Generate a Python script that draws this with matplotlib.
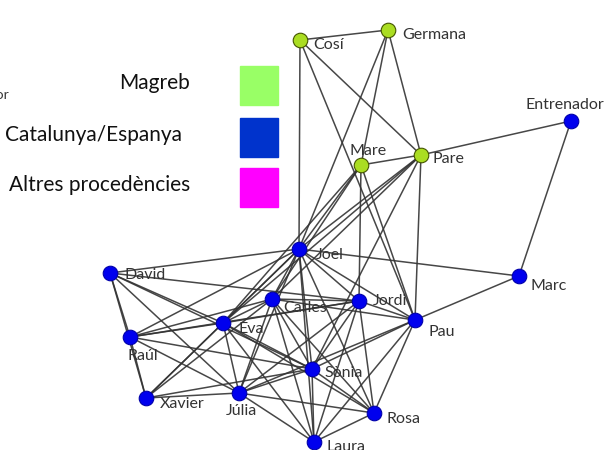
import matplotlib
matplotlib.use("Agg")
from matplotlib import pyplot as plt
from matplotlib.patches import Rectangle

plt.rcParams['font.family'] = ['Lato', 'DejaVu Sans']

# node positions (pixel coords, y down)
names = ['Cosí', 'Germana', 'Entrenador', 'Mare', 'Pare', 'Joel', 'David', 'Marc',
         'Carles', 'Jordi', 'Pau', 'Eva', 'Raúl', 'Sònia', 'Xavier', 'Júlia', 'Rosa', 'Laura']
xs = [300, 388, 571, 361, 421, 299, 110, 519, 272, 359, 415, 223, 130, 312, 146, 239, 374, 314]
ys = [40, 30, 121, 165, 155, 249, 273, 276, 299, 301, 320, 323, 337, 369, 398, 393, 413, 442]
origin = ['M', 'M', 'C', 'M', 'M', 'C', 'C', 'C', 'C', 'C', 'C', 'C', 'C', 'C', 'C', 'C', 'C', 'C']

edges = [
    ('Cosí', 'Germana'), ('Cosí', 'Joel'), ('Cosí', 'Pare'), ('Cosí', 'Pau'),
    ('Germana', 'Joel'), ('Germana', 'Mare'), ('Germana', 'Pare'),
    ('Mare', 'Pare'), ('Pare', 'Entrenador'), ('Entrenador', 'Marc'),
    ('Mare', 'Joel'), ('Mare', 'Carles'), ('Mare', 'Eva'), ('Mare', 'Jordi'), ('Mare', 'Pau'),
    ('Pare', 'Joel'), ('Pare', 'Carles'), ('Pare', 'Eva'), ('Pare', 'Pau'), ('Pare', 'Sònia'),
    ('Joel', 'David'), ('Joel', 'Marc'), ('Joel', 'Carles'), ('Joel', 'Eva'), ('Joel', 'Raúl'),
    ('Joel', 'Xavier'), ('Joel', 'Jordi'), ('Joel', 'Pau'), ('Joel', 'Sònia'), ('Joel', 'Rosa'),
    ('Joel', 'Laura'), ('Joel', 'Júlia'),
    ('David', 'Raúl'), ('David', 'Xavier'), ('David', 'Eva'), ('David', 'Júlia'),
    ('David', 'Sònia'), ('David', 'Jordi'),
    ('Raúl', 'Carles'), ('Raúl', 'Eva'), ('Raúl', 'Sònia'), ('Raúl', 'Júlia'),
    ('Raúl', 'Jordi'), ('Raúl', 'Xavier'),
    ('Xavier', 'Eva'), ('Xavier', 'Carles'), ('Xavier', 'Júlia'), ('Xavier', 'Sònia'),
    ('Eva', 'Carles'), ('Eva', 'Júlia'), ('Eva', 'Sònia'), ('Eva', 'Rosa'), ('Eva', 'Laura'),
    ('Eva', 'Jordi'),
    ('Carles', 'Jordi'), ('Carles', 'Júlia'), ('Carles', 'Sònia'), ('Carles', 'Laura'),
    ('Carles', 'Rosa'), ('Carles', 'Pau'),
    ('Jordi', 'Pau'), ('Jordi', 'Sònia'), ('Jordi', 'Júlia'), ('Jordi', 'Rosa'), ('Jordi', 'Laura'),
    ('Pau', 'Marc'), ('Pau', 'Sònia'), ('Pau', 'Júlia'), ('Pau', 'Laura'), ('Pau', 'Rosa'),
    ('Sònia', 'Júlia'), ('Sònia', 'Rosa'), ('Sònia', 'Laura'),
    ('Júlia', 'Rosa'), ('Júlia', 'Laura'), ('Rosa', 'Laura'),
]

# label offsets (dx, dy, ha)
label_pos = {
    'Cosí': (13, 5, 'left'), 'Germana': (14, 5, 'left'), 'Entrenador': (-6, -16, 'center'),
    'Mare': (7, -14, 'center'), 'Pare': (11, 4, 'left'), 'Joel': (17, 6, 'left'),
    'David': (14, 2, 'left'), 'Marc': (12, 10, 'left'), 'Carles': (11, 9, 'left'),
    'Jordi': (14, 0, 'left'), 'Pau': (13, 12, 'left'), 'Eva': (15, 6, 'left'),
    'Raúl': (13, 19, 'center'), 'Sònia': (12, 4, 'left'), 'Xavier': (14, 6, 'left'),
    'Júlia': (2, 18, 'center'), 'Rosa': (13, 6, 'left'), 'Laura': (13, 5, 'left'),
}

legend_labels = ['Magreb', 'Catalunya/Espanya', 'Altres procedències']
legend_colors = ['#99ff66', '#0033cc', '#ff00ff']
legend_right = [190, 182, 190]

node_face = {'M': '#aadd22', 'C': '#0000ee'}
node_edge = {'M': '#445500', 'C': '#0000aa'}

fig = plt.figure(figsize=(6.12, 4.5), dpi=100)
ax = fig.add_axes([0, 0, 1, 1])
ax.set_xlim(0, 612)
ax.set_ylim(450, 0)
ax.axis('off')

idx = {n: i for i, n in enumerate(names)}
for a, b in edges:
    i, j = idx[a], idx[b]
    ax.plot([xs[i], xs[j]], [ys[i], ys[j]], color='#333333', lw=1.1, alpha=0.9, zorder=1)

for n, x, y, o in zip(names, xs, ys, origin):
    ax.scatter(x, y, s=110, color=node_face[o], edgecolors=node_edge[o], linewidths=0.8, zorder=3)
    dx, dy, ha = label_pos[n]
    ax.text(x + dx, y + dy, n, fontsize=11.5, color='#333333', ha=ha, va='center', zorder=4)

# legend drawn as boxes
leg_y = [85, 137, 187]
for lab, col, y, xr in zip(legend_labels, legend_colors, leg_y, legend_right):
    ax.add_patch(Rectangle((240, y - 19), 38, 39, color=col, zorder=2))
    ax.text(xr, y - 2, lab, fontsize=15, color='#111111', ha='right', va='center')

# cut-off label at the left edge
ax.text(10, 95, 'Entrenador', fontsize=10, color='#333333', ha='right', va='center')

fig.savefig('out.png', dpi=100)
